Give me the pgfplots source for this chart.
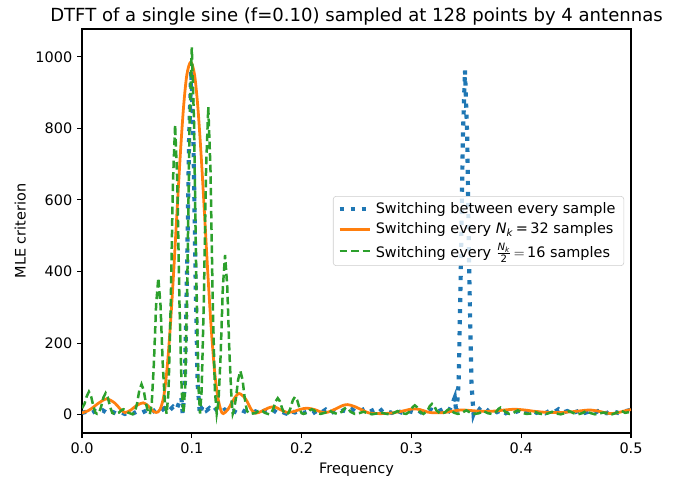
\documentclass[border=0pt]{standalone}
\usepackage{amsmath}
\usepackage{fontspec}
\setmainfont{DejaVu Sans}
\usepackage{pgfplots}
\pgfplotsset{compat=1.18}
\definecolor{c0}{HTML}{1F77B4}
\definecolor{c1}{HTML}{FF7F0E}
\definecolor{c2}{HTML}{2CA02C}
\begin{document}
\begin{tikzpicture}
\path[use as bounding box] (0pt,0pt) rectangle (486.72pt,347.04pt);
\begin{axis}[
  at={(59.04pt,35.28pt)}, anchor=south west,
  width=395.28pt, height=290.88pt, scale only axis,
  xmin=0, xmax=0.5, ymin=-51.3, ymax=1077.7,
  xtick={0,0.1,0.2,0.3,0.4,0.5},
  ytick={0,200,400,600,800,1000},
  xticklabel style={/pgf/number format/fixed,/pgf/number format/precision=1,/pgf/number format/fixed zerofill},
  /pgf/number format/1000 sep={},
  /pgf/number format/assume math mode=true,
  scaled ticks=false,
  tick align=outside, tick pos=left,
  major tick length=3.5pt,
  every tick/.style={black, line width=0.8pt},
  axis line style={line width=0.8pt},
  tick label style={font=\fontsize{10.4}{12}\selectfont},
  label style={font=\fontsize{10.4}{12}\selectfont},
  title style={font=\fontsize{13}{15}\selectfont, yshift=-6.5pt},
  title={DTFT of a single sine (f=0.10) sampled at 128 points by 4 antennas},
  xlabel={Frequency}, ylabel={MLE criterion},
  legend cell align=left,
  legend style={at={(1,0.5)}, anchor=east, xshift=-5pt,
    font=\fontsize{10.4}{12}\selectfont,
    draw=black!20, rounded corners=2pt, fill=white, fill opacity=0.8, text opacity=1,
    inner xsep=3pt, inner ysep=3.5pt, row sep=3pt,
    nodes={inner xsep=3pt, inner ysep=1pt}},
  legend image code/.code={\draw[#1] (0cm,0cm) -- (0.76cm,0cm);},
]
\addplot[c0, line width=3pt, dash pattern=on 3pt off 4.95pt] coordinates {
(0.000,5)(0.004,8)(0.008,3)(0.012,10)(0.016,6)(0.019,12)(0.023,4)(0.027,9)(0.031,3)(0.035,7)
(0.039,2)(0.043,8)(0.047,4)(0.051,10)(0.055,6)(0.059,12)(0.063,5)(0.067,14)(0.071,8)(0.075,18)
(0.079,10)(0.083,22)(0.086,14)(0.0887,35)(0.0905,48)(0.0917,3)(0.0937,87)(0.0956,391)(0.0976,782)
(0.0995,962)(0.1014,782)(0.1034,391)(0.1053,87)(0.1073,2)(0.1095,22)(0.1115,26)(0.1135,12)
(0.116,18)(0.119,8)(0.122,15)(0.126,6)(0.130,14)(0.134,5)(0.138,10)(0.142,4)(0.146,12)(0.150,6)
(0.154,3)(0.158,9)(0.162,5)(0.166,11)(0.170,7)(0.174,13)(0.178,4)(0.182,8)(0.186,3)(0.190,10)
(0.194,6)(0.198,12)(0.202,5)(0.206,9)(0.210,3)(0.214,11)(0.218,6)(0.222,14)(0.226,4)(0.230,9)
(0.234,5)(0.238,12)(0.242,7)(0.246,15)(0.250,6)(0.254,11)(0.258,17)(0.262,8)(0.266,14)(0.270,6)
(0.274,16)(0.278,9)(0.282,5)(0.286,13)(0.290,7)(0.294,3)(0.298,10)(0.302,6)(0.306,12)(0.310,4)
(0.314,9)(0.318,14)(0.322,7)(0.326,11)(0.330,17)(0.334,10)(0.337,28)(0.3395,48)(0.3410,2)
(0.3430,87)(0.3449,391)(0.3469,780)(0.3488,962)(0.3508,780)(0.3527,391)(0.3547,87)(0.3566,2)
(0.3590,22)(0.3610,18)(0.3630,12)(0.366,20)(0.370,10)(0.374,16)(0.378,7)(0.382,13)(0.386,4)
(0.390,9)(0.394,6)(0.398,11)(0.402,3)(0.406,8)(0.410,12)(0.414,5)(0.418,9)(0.422,4)(0.426,11)
(0.430,7)(0.434,15)(0.438,6)(0.442,10)(0.446,3)(0.450,8)(0.454,12)(0.458,5)(0.462,9)(0.466,3)
(0.470,10)(0.474,6)(0.478,4)(0.482,11)(0.486,7)(0.490,3)(0.494,9)(0.498,12)(0.500,8)
};
\addlegendentry{Switching between every sample}
\addplot[c1, line width=2pt, smooth, tension=0.5] coordinates {
(0.000,5)(0.005,10)(0.010,20)(0.015,32)(0.0225,44)(0.030,32)(0.035,15)(0.039,6)(0.044,12)
(0.050,26)(0.0557,33)(0.060,25)(0.064,12)(0.0675,6)(0.0710,14)(0.0745,52)(0.0775,130)
(0.0805,250)(0.0835,400)(0.0865,565)(0.0895,725)(0.0925,860)(0.0955,950)(0.0990,985)
(0.1025,950)(0.1055,860)(0.1085,725)(0.1115,565)(0.1145,400)(0.1175,250)(0.1205,130)
(0.1235,52)(0.1265,12)(0.1287,3)(0.133,15)(0.138,42)(0.143,59)(0.149,44)(0.154,15)(0.158,4)
(0.164,10)(0.170,19)(0.175,22)(0.180,15)(0.186,7)(0.192,8)(0.199,15)(0.205,18)(0.212,14)
(0.219,6)(0.224,7)(0.231,16)(0.237,25)(0.242,28)(0.248,23)(0.255,13)(0.261,5)(0.268,3)
(0.275,3)(0.283,5)(0.292,10)(0.301,16)(0.308,14)(0.315,7)(0.322,5)(0.330,6)(0.338,10)
(0.345,13)(0.352,12)(0.360,10)(0.368,9)(0.376,10)(0.385,13)(0.394,15)(0.403,13)(0.413,9)
(0.425,6)(0.436,6)(0.446,8)(0.455,11)(0.462,13)(0.470,10)(0.477,5)(0.483,3)(0.490,7)
(0.495,11)(0.500,14)
};
\addlegendentry{Switching every \textit{N}\textsubscript{\textit{k}}\,=\,32 samples}
\addplot[c2, line width=1.8pt, dash pattern=on 5.5pt off 2.8pt] coordinates {
(0.0000,18)(0.0023,30)(0.0043,51)(0.0063,64)(0.0083,51)(0.0103,24)(0.0123,5)(0.0139,2)
(0.0155,5)(0.0175,23)(0.0195,48)(0.0215,60)(0.0235,48)(0.0255,23)(0.0275,5)(0.0297,2)
(0.0338,6)(0.0358,12)(0.0378,15)(0.0398,12)(0.0418,6)(0.0460,1)
(0.0482,7)(0.0502,32)(0.0522,68)(0.0542,85)(0.0562,68)(0.0582,32)(0.0602,7)(0.0618,1)
(0.0635,31)(0.0655,145)(0.0675,306)(0.0695,382)(0.0715,306)(0.0735,145)(0.0755,31)(0.0771,2)
(0.0788,65)(0.0808,308)(0.0828,648)(0.0848,810)(0.0868,648)(0.0888,308)(0.0908,65)(0.0924,3)
(0.0940,82)(0.0960,390)(0.0980,821)(0.1000,1026)(0.1020,821)(0.1040,390)(0.1060,82)(0.1075,3)
(0.1090,69)(0.1110,327)(0.1130,688)(0.1150,860)(0.1170,688)(0.1190,327)(0.1210,69)(0.1227,3)
(0.1243,36)(0.1263,169)(0.1283,357)(0.1303,446)(0.1323,357)(0.1343,169)(0.1363,36)(0.1373,2)
(0.1382,10)(0.1402,46)(0.1422,98)(0.1442,122)(0.1462,98)(0.1482,46)(0.1502,10)(0.1533,2)
(0.1585,5)(0.1605,10)(0.1625,12)(0.1645,10)(0.1665,5)(0.1704,1)
(0.1723,4)(0.1743,17)(0.1763,37)(0.1783,46)(0.1803,37)(0.1823,17)(0.1843,4)(0.1862,1)
(0.1880,4)(0.1900,19)(0.1920,40)(0.1940,50)(0.1960,40)(0.1980,19)(0.2000,4)(0.2017,2)
(0.2054,6)(0.2074,12)(0.2094,15)(0.2114,12)(0.2134,6)(0.2172,2)
(0.2210,5)(0.2250,12)(0.2290,5)(0.2328,2)
(0.2366,8)(0.2386,16)(0.2406,20)(0.2426,16)(0.2446,8)(0.2485,2)
(0.2523,4)(0.2563,8)(0.2603,4)(0.2641,1)
(0.2679,3)(0.2719,6)(0.2759,3)(0.2797,1)
(0.2835,4)(0.2875,10)(0.2915,4)(0.2953,2)
(0.2991,10)(0.3011,21)(0.3031,26)(0.3051,21)(0.3071,10)(0.3110,2)
(0.3148,12)(0.3168,24)(0.3188,30)(0.3208,24)(0.3228,12)(0.3266,2)
(0.3304,6)(0.3324,12)(0.3344,15)(0.3364,12)(0.3384,6)(0.3422,2)
(0.3460,5)(0.3500,12)(0.3540,5)(0.3578,2)
(0.3616,4)(0.3656,10)(0.3696,4)(0.3735,2)
(0.3773,8)(0.3793,16)(0.3813,20)(0.3833,16)(0.3853,8)(0.3891,2)
(0.3929,5)(0.3969,12)(0.4009,5)(0.4047,2)
(0.4085,3)(0.4125,8)(0.4165,3)(0.4203,1)
(0.4241,3)(0.4281,8)(0.4321,3)(0.4360,1)
(0.4398,4)(0.4438,10)(0.4478,4)(0.4516,1)
(0.4554,4)(0.4594,10)(0.4634,4)(0.4672,1)
(0.4710,3)(0.4750,6)(0.4790,3)(0.4828,1)
(0.4866,5)(0.4906,12)(0.4946,5)(0.5000,8)
};
\addlegendentry{\rule[-5.5pt]{0pt}{16pt}Switching every $\frac{\text{\itshape N}_{\text{\itshape k}}}{\text{2}}\,{=}\,$16 samples}
\end{axis}
\end{tikzpicture}
\end{document}
